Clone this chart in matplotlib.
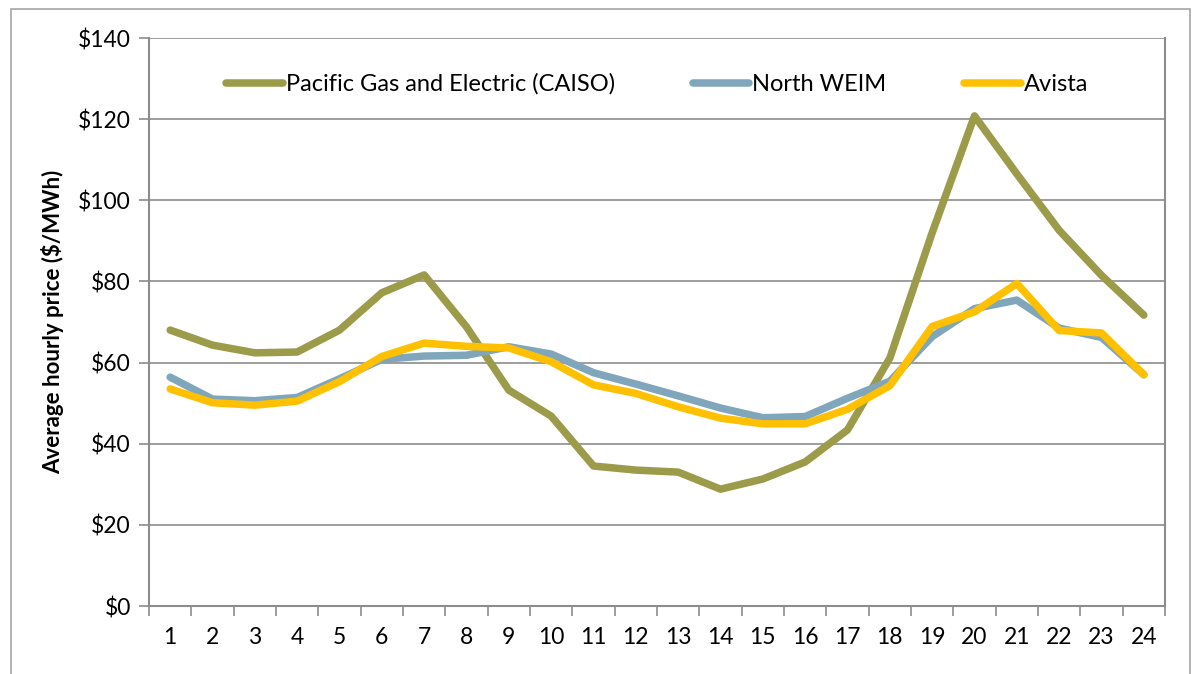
import numpy as np
import matplotlib
matplotlib.use("Agg")
import matplotlib.pyplot as plt
import matplotlib as mpl
from matplotlib.patches import Rectangle
from matplotlib.ticker import FuncFormatter, FixedLocator

mpl.rcParams['font.family'] = ['Lato', 'DejaVu Sans']

hours = list(range(1, 25))
pge = [68.0, 64.3, 62.4, 62.6, 68.0, 77.2, 81.6, 68.8, 53.2, 46.8, 34.5, 33.5,
       33.0, 28.8, 31.3, 35.5, 43.4, 61.1, 92.0, 120.8, 106.5, 92.6, 81.5, 71.7]
weim = [56.4, 51.0, 50.6, 51.4, 56.0, 60.8, 61.6, 61.8, 63.9, 62.1, 57.5, 54.7,
        51.8, 48.8, 46.4, 46.7, 51.2, 55.4, 66.4, 73.3, 75.4, 68.5, 66.2, 57.0]
avista = [53.5, 50.1, 49.5, 50.5, 55.3, 61.5, 64.8, 64.0, 63.6, 60.2, 54.5, 52.4,
          49.1, 46.3, 44.9, 44.9, 48.5, 54.3, 68.9, 72.5, 79.5, 67.9, 67.3, 57.0]
series_names = ["Pacific Gas and Electric (CAISO)", "North WEIM", "Avista"]
colors = ["#9B9B4A", "#7FA6BB", "#FFC000"]

fig = plt.figure(figsize=(11.99, 6.74), dpi=100)
ax = fig.add_axes([149/1199, 1-606/674, (1165-149)/1199, (606-38)/674])

# outer chart frame
fig.patches.append(Rectangle((11/1199, -0.05), (1190-11)/1199, 1.05-9/674,
                             transform=fig.transFigure, fill=False,
                             edgecolor="#A6A6A6", lw=1.2))

for vals, c, name in zip([pge, weim, avista], colors, series_names):
    ax.plot(hours, vals, color=c, lw=5.4, solid_capstyle='round',
            solid_joinstyle='round', label=name)

ax.set_xlim(0.5, 24.5)
ax.set_ylim(0, 140)
ax.set_yticks(np.arange(0, 141, 20))
ax.yaxis.set_major_formatter(FuncFormatter(lambda v, p: "$%d" % v))
ax.grid(axis='y', color="#8C8C8C", lw=1.2)
ax.set_axisbelow(True)

ax.set_xticks(hours)
ax.xaxis.set_minor_locator(FixedLocator(np.arange(0.5, 25, 1)))
ax.tick_params(axis='x', which='major', length=0, pad=15, labelsize=16.5)
ax.tick_params(axis='x', which='minor', length=7, width=1.2, color="#8C8C8C")
ax.tick_params(axis='y', length=7, width=1.2, color="#8C8C8C", pad=6, labelsize=16.5)

for s in ax.spines.values():
    s.set_color("#8C8C8C")
    s.set_linewidth(1.5)
ax.spines['top'].set_visible(False)

ax.set_ylabel("Average hourly price ($/MWh)", fontsize=16, fontweight='bold', labelpad=10)

ax.legend(loc='upper center', bbox_to_anchor=(0.5, 0.975), ncol=3, frameon=False,
          fontsize=17, handlelength=2.4, handletextpad=0.12, columnspacing=3.3)

fig.savefig("out.png", dpi=100)
